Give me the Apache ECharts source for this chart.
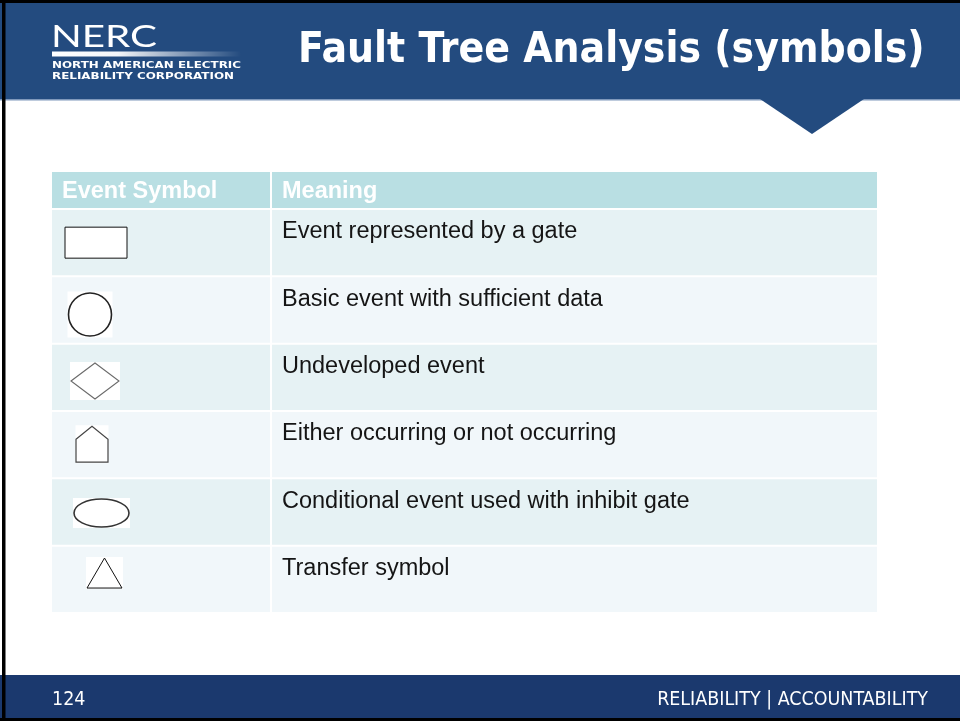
<!DOCTYPE html>
<html>
<head>
<meta charset="utf-8">
<script src="https://cdn.jsdelivr.net/npm/echarts@6/dist/echarts.min.js"></script>
<style>
  html, body { margin: 0; padding: 0; background: #ffffff; }
  #chart { width: 960px; height: 721px; }
</style>
</head>
<body>
<div id="chart"></div>
<script>
// ---- content ----
const slideTitle = 'Fault Tree Analysis (symbols)';
const logoText = 'NERC';
const orgLines = ['NORTH AMERICAN ELECTRIC', 'RELIABILITY CORPORATION'];
const columnHeaders = ['Event Symbol', 'Meaning'];
const eventSymbols = ['rect', 'circle', 'diamond', 'house', 'ellipse', 'triangle'];
const meanings = [
  'Event represented by a gate',
  'Basic event with sufficient data',
  'Undeveloped event',
  'Either occurring or not occurring',
  'Conditional event used with inhibit gate',
  'Transfer symbol'
];
const pageNumber = '124';
const footerText = 'RELIABILITY | ACCOUNTABILITY';

// ---- styles ----
const ELLIPSE = 'M0,1 C0,0.4477 0.4477,0 1,0 C1.5523,0 2,0.4477 2,1 C2,1.5523 1.5523,2 1,2 C0.4477,2 0,1.5523 0,1 Z';
const symbolStyle = {
  rect:     { path: 'M0,0 L1,0 L1,1 L0,1 Z', w: 62, h: 31, cx: 44, dy: 0, stroke: '#111', lw: 1, bg: null },
  circle:   { path: ELLIPSE, w: 43, h: 43, cx: 38, dy: 4.5, stroke: '#222', lw: 1.6, bg: [45, 46] },
  diamond:  { path: 'M0,1 L1,0 L2,1 L1,2 Z', w: 48, h: 36, cx: 43, dy: 3.7, stroke: '#6a6a6a', lw: 1.1, bg: [50, 38] },
  house:    { path: 'M0,13 L16,0 L32,13 L32,36 L0,36 Z', w: 32, h: 36, cx: 40, dy: -0.5, stroke: '#444', lw: 1.2, bg: [33, 38] },
  ellipse:  { path: ELLIPSE, w: 55, h: 28, cx: 49.5, dy: 1, stroke: '#333', lw: 1.6, bg: [57, 30] },
  triangle: { path: 'M1,0 L2,2 L0,2 Z', w: 35, h: 30, cx: 52.5, dy: -6.3, stroke: '#111', lw: 1, bg: [37, 32] }
};
const HEADER_BLUE = '#234b7f';
const FOOTER_BLUE = '#1b396e';
const TH_COLOR = '#b9dfe3';
const ROW_COLORS = ['#e6f2f4', '#f1f7fa'];
const COL_SPLIT = 219 / 825;

const mctx = document.createElement('canvas').getContext('2d');
function textWidth(text, font) { mctx.font = font; return mctx.measureText(text).width; }
function fitSize(text, weight, family, target) {
  return 100 * target / textWidth(text, weight + ' 100px ' + family);
}

const titleFamily = '"DejaVu Sans Condensed", "DejaVu Sans", sans-serif';
const titleSize = Math.min(48, fitSize(slideTitle, 'bold', titleFamily, 627));
const footFamily = '"DejaVu Sans Condensed", "DejaVu Sans", sans-serif';
const footSize = Math.min(22, fitSize(footerText, 'normal', footFamily, 271));

const logoFamily = 'Lato, "Noto Sans", sans-serif';
const logoSize = 31;
const logoFont = 'normal ' + logoSize + 'px ' + logoFamily;
const logoScale = 106 / textWidth(logoText, logoFont);
const orgFamily = '"DejaVu Sans", sans-serif';
const orgSize = 9.5;
const orgFont = '600 ' + orgSize + 'px ' + orgFamily;
const orgScales = [189, 182].map((w, i) => w / textWidth(orgLines[i], orgFont));

const chart = echarts.init(document.getElementById('chart'), null, { renderer: 'canvas' });

const cellFont = '23.5px "Liberation Sans", Arial, sans-serif';

function renderRow(params, api) {
  const i = api.value(1);
  const p0 = api.coord([0, i]);
  const p1 = api.coord([1, i]);
  const band = api.size([0, 1])[1];
  const left = p0[0], right = p1[0];
  const cy = p0[1];
  const top = cy - band / 2 + 1;
  const h = band - 2;
  const c1w = (right - left) * COL_SPLIT;
  const color = ROW_COLORS[i % 2];
  const children = [
    { type: 'rect', shape: { x: left, y: top, width: c1w - 1, height: h }, style: { fill: color } },
    { type: 'rect', shape: { x: left + c1w + 1, y: top, width: right - left - c1w - 1, height: h }, style: { fill: color } },
    { type: 'text', style: { text: meanings[i], x: left + c1w + 11, y: top + 22, font: cellFont, fill: '#151515', textAlign: 'left', textVerticalAlign: 'middle' } }
  ];
  const s = symbolStyle[eventSymbols[i]];
  const sx = left + s.cx, sy = cy + s.dy;
  if (s.bg) {
    children.push({ type: 'rect', shape: { x: sx - s.bg[0] / 2, y: sy - s.bg[1] / 2, width: s.bg[0], height: s.bg[1] }, style: { fill: '#ffffff' } });
  }
  children.push({
    type: 'path',
    shape: { pathData: s.path, layout: 'cover', x: sx - s.w / 2, y: sy - s.h / 2, width: s.w, height: s.h },
    style: { fill: '#ffffff', stroke: s.stroke, lineWidth: s.lw }
  });
  return { type: 'group', children };
}

const option = {
  backgroundColor: '#ffffff',
  animation: false,
  grid: { left: 52, top: 209, width: 825, height: 404, containLabel: false },
  xAxis: { type: 'value', min: 0, max: 1, show: false },
  yAxis: { type: 'category', data: meanings, inverse: true, show: false },
  series: [{
    type: 'custom',
    renderItem: renderRow,
    data: meanings.map((m, i) => [0, i]),
    encode: { x: 0, y: 1 },
    clip: false
  }],
  graphic: [
    // frame
    { type: 'rect', shape: { x: 0, y: 0, width: 960, height: 3 }, style: { fill: '#000' }, z: 10 },
    { type: 'rect', shape: { x: 2, y: 0, width: 3.5, height: 721 }, style: { fill: '#000' }, z: 10 },
    { type: 'rect', shape: { x: 0, y: 718, width: 960, height: 3 }, style: { fill: '#000' }, z: 10 },
    // header
    { type: 'rect', shape: { x: 0, y: 3, width: 960, height: 97 }, style: { fill: HEADER_BLUE } },
    { type: 'rect', shape: { x: 0, y: 99, width: 960, height: 1.5 }, style: { fill: '#7f98bb' } },
    { type: 'polygon', shape: { points: [[760, 99], [864, 99], [812, 134]] }, style: { fill: HEADER_BLUE } },
    // logo
    { type: 'text', x: 51, y: 37, scaleX: logoScale, style: { text: logoText, x: 0, y: 0, font: logoFont, fill: '#ffffff', textVerticalAlign: 'middle' } },
    { type: 'rect', shape: { x: 52, y: 51.5, width: 189, height: 5 }, style: { fill: { type: 'linear', x: 0, y: 0, x2: 1, y2: 0, colorStops: [ { offset: 0, color: 'rgba(255,255,255,1)' }, { offset: 0.35, color: 'rgba(255,255,255,0.95)' }, { offset: 1, color: 'rgba(255,255,255,0)' } ] } } },
    { type: 'text', x: 52, y: 66, scaleX: orgScales[0], style: { text: orgLines[0], x: 0, y: 0, font: orgFont, fill: '#ffffff', textVerticalAlign: 'middle' } },
    { type: 'text', x: 52, y: 76.5, scaleX: orgScales[1], style: { text: orgLines[1], x: 0, y: 0, font: orgFont, fill: '#ffffff', textVerticalAlign: 'middle' } },
    // title
    { type: 'text', style: { text: slideTitle, x: 298, y: 51, font: 'bold ' + titleSize + 'px ' + titleFamily, fill: '#ffffff', textAlign: 'left', textVerticalAlign: 'middle' } },
    // table header
    { type: 'rect', shape: { x: 52, y: 172, width: 825 * COL_SPLIT - 1, height: 36 }, style: { fill: TH_COLOR } },
    { type: 'rect', shape: { x: 52 + 825 * COL_SPLIT + 1, y: 172, width: 825 - 825 * COL_SPLIT - 1, height: 36 }, style: { fill: TH_COLOR } },
    { type: 'text', style: { text: columnHeaders[0], x: 62, y: 192, font: 'bold 23.5px "Liberation Sans", Arial, sans-serif', fill: '#ffffff', textVerticalAlign: 'middle' } },
    { type: 'text', style: { text: columnHeaders[1], x: 52 + 825 * COL_SPLIT + 11, y: 192, font: 'bold 23.5px "Liberation Sans", Arial, sans-serif', fill: '#ffffff', textVerticalAlign: 'middle' } },
    // footer
    { type: 'rect', shape: { x: 0, y: 675, width: 960, height: 44 }, style: { fill: FOOTER_BLUE } },
    { type: 'text', style: { text: pageNumber, x: 52, y: 700, font: footSize + 'px ' + footFamily, fill: '#ffffff', textVerticalAlign: 'middle' } },
    { type: 'text', style: { text: footerText, x: 928, y: 700, font: footSize + 'px ' + footFamily, fill: '#ffffff', textAlign: 'right', textVerticalAlign: 'middle' } }
  ]
};
chart.setOption(option);
</script>
</body>
</html>
